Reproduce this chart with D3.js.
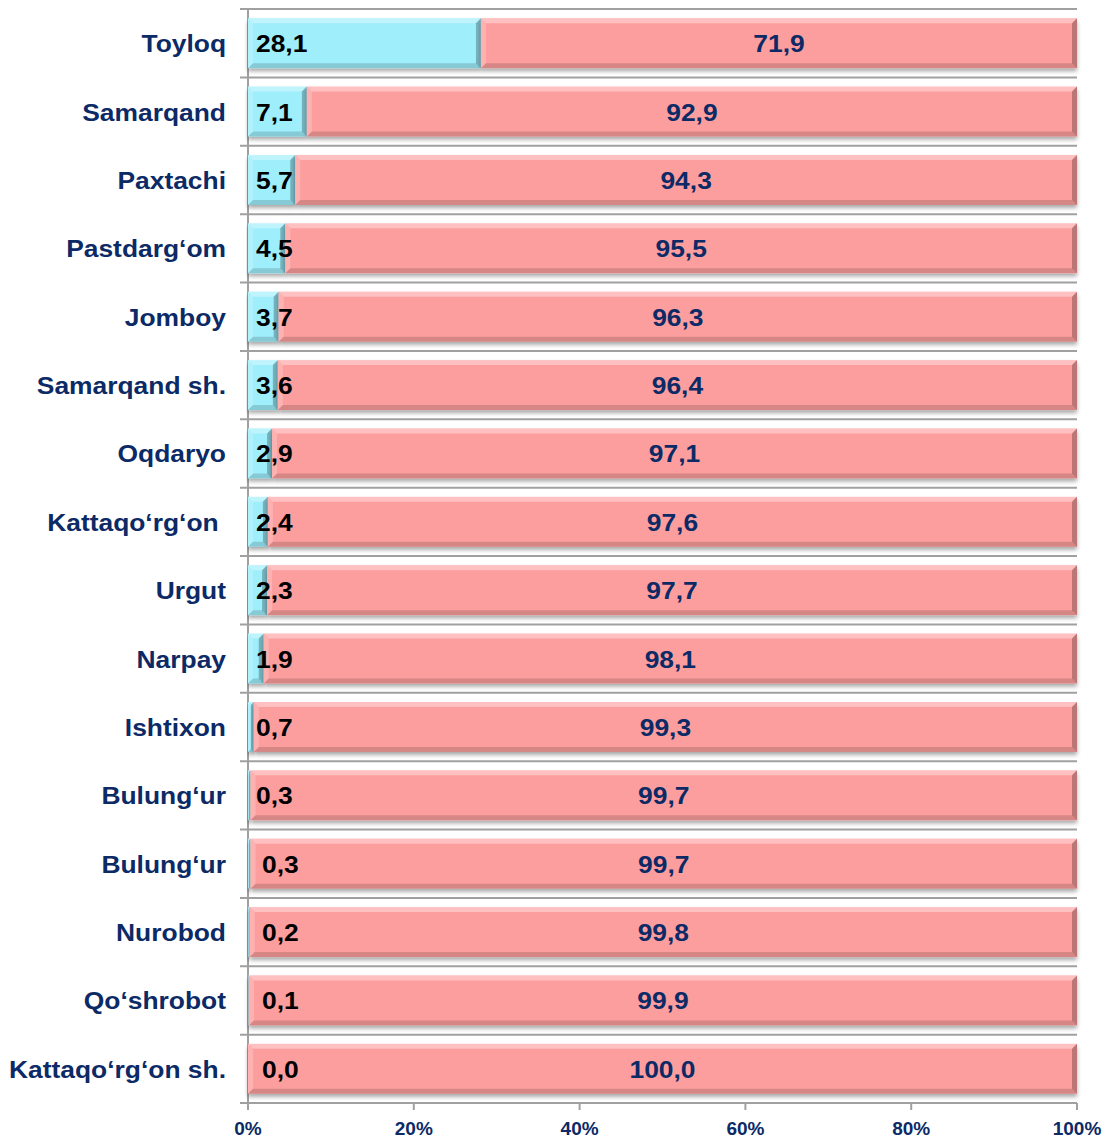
<!DOCTYPE html>
<html><head><meta charset="utf-8">
<script src="https://cdn.jsdelivr.net/npm/d3@7"></script>
<style>body{margin:0;background:#fff}svg{display:block}</style>
</head><body>
<script>
const categories = ["Toyloq","Samarqand","Paxtachi","Pastdarg‘om","Jomboy","Samarqand sh.","Oqdaryo","Kattaqo‘rg‘on ","Urgut","Narpay","Ishtixon","Bulung‘ur","Bulung‘ur","Nurobod","Qo‘shrobot","Kattaqo‘rg‘on sh."];
const seriesA = [28.1,7.1,5.7,4.5,3.7,3.6,2.9,2.4,2.3,1.9,0.7,0.3,0.3,0.2,0.1,0.0];
const seriesB = [71.9,92.9,94.3,95.5,96.3,96.4,97.1,97.6,97.7,98.1,99.3,99.7,99.7,99.8,99.9,100.0];
const tickValues = [0,20,40,60,80,100];

const W=1107,H=1139;
const svg=d3.select("body").append("svg").attr("width",W).attr("height",H);
const x=d3.scaleLinear().domain([0,100]).range([248,1077]);
const y=d3.scaleBand().domain(d3.range(categories.length)).range([9,1103]).paddingInner(0.27).paddingOuter(0.135);
const step=y.step();
const fmt=v=>v.toFixed(1).replace(".",",");
const FONT="Liberation Sans, Arial, sans-serif";

// grid lines at band boundaries
const bounds=d3.range(categories.length+1).map(i=>9+i*step);
svg.append("g").selectAll("line").data(bounds).join("line")
  .attr("x1",240).attr("x2",1077).attr("y1",d=>d).attr("y2",d=>d)
  .attr("stroke","#a0a0a0").attr("stroke-width",2);
svg.append("line").attr("x1",248).attr("x2",248).attr("y1",9).attr("y2",1103).attr("stroke","#a0a0a0").attr("stroke-width",2);
svg.append("g").selectAll("line").data(tickValues).join("line")
  .attr("x1",d=>x(d)).attr("x2",d=>x(d)).attr("y1",1103).attr("y2",1110)
  .attr("stroke","#a0a0a0").attr("stroke-width",2);
svg.append("g").selectAll("text").data(tickValues).join("text")
  .attr("x",d=>x(d)).attr("y",1135).attr("text-anchor","middle")
  .attr("font-family",FONT).attr("font-weight","bold").attr("font-size",19)
  .attr("fill","#0c2a66").text(d=>d+"%");

const defs=svg.append("defs");
const f=defs.append("filter").attr("id","sh").attr("x","-5%").attr("y","-20%").attr("width","110%").attr("height","150%");
f.append("feGaussianBlur").attr("in","SourceAlpha").attr("stdDeviation",2);
f.append("feOffset").attr("dx",0).attr("dy",3).attr("result","b");
f.append("feComponentTransfer").append("feFuncA").attr("type","linear").attr("slope",0.35);
const m=f.append("feMerge"); m.append("feMergeNode"); m.append("feMergeNode").attr("in","SourceGraphic");

function bevelBar(g,x0,x1,y0,h,color){
  const w=x1-x0; if(w<=0) return;
  const gg=g.append("g");
  gg.append("rect").attr("x",x0).attr("y",y0).attr("width",w).attr("height",h).attr("fill",color).attr("filter","url(#sh)");
  const b=Math.min(5,w/2);
  gg.append("polygon").attr("points",[[x0,y0],[x1,y0],[x1-b,y0+b],[x0+b,y0+b]].join(" ")).attr("fill","#fff").attr("opacity",0.35);
  gg.append("polygon").attr("points",[[x0,y0],[x0+b,y0+b],[x0+b,y0+h-b],[x0,y0+h]].join(" ")).attr("fill","#fff").attr("opacity",0.2);
  gg.append("polygon").attr("points",[[x0,y0+h],[x0+b,y0+h-b],[x1-b,y0+h-b],[x1,y0+h]].join(" ")).attr("fill","#000").attr("opacity",0.15);
  gg.append("polygon").attr("points",[[x1,y0],[x1,y0+h],[x1-b,y0+h-b],[x1-b,y0+b]].join(" ")).attr("fill","#000").attr("opacity",0.25);
}

const bars=svg.append("g");
categories.forEach((c,i)=>{
  const y0=y(i), h=y.bandwidth();
  const a=seriesA[i], b=seriesB[i];
  bevelBar(bars,x(0),x(a),y0,h,"#9eeefc");
  bevelBar(bars,x(a),x(a+b),y0,h,"#fd9e9e");
});

const SX=1.1;
const lab=svg.append("g").attr("font-family",FONT).attr("font-weight","bold").attr("font-size",24);
lab.selectAll(".cat").data(categories).join("text").attr("class","cat")
  .attr("transform",(d,i)=>`translate(226,${y(i)+y.bandwidth()/2+9}) scale(${SX},1)`)
  .attr("text-anchor","end").attr("fill","#0c2a66").attr("xml:space","preserve").style("white-space","pre").text(d=>d);
lab.selectAll(".va").data(seriesA).join("text").attr("class","va")
  .attr("transform",(d,i)=>`translate(${x(0)+(i>=12?14:8)},${y(i)+y.bandwidth()/2+9}) scale(${SX},1)`)
  .attr("fill","#000").text(d=>fmt(d));
lab.selectAll(".vb").data(seriesB).join("text").attr("class","vb")
  .attr("transform",(d,i)=>`translate(${(x(seriesA[i])+x(seriesA[i]+d))/2},${y(i)+y.bandwidth()/2+9}) scale(${SX},1)`)
  .attr("text-anchor","middle").attr("fill","#0c2a66").text(d=>fmt(d));
</script>
</body></html>
